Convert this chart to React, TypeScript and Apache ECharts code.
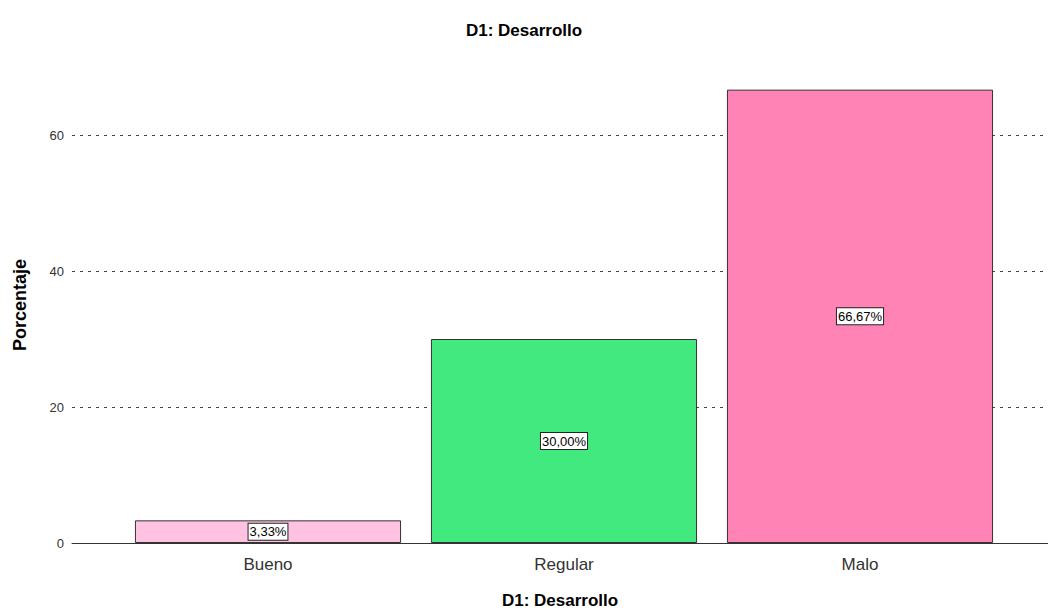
import React, { useEffect, useRef } from "react";
import * as echarts from "echarts";

const categories = ["Bueno", "Regular", "Malo"];
const percentages = [3.33, 30.0, 66.67];
const barColors = ["#FFC2E0", "#42E97E", "#FF83B4"];
const yTicks = { min: 0, max: 70, interval: 20 };
const chartTitle = "D1: Desarrollo";
const xName = "D1: Desarrollo";
const yName = "Porcentaje";

const FONT = "'Liberation Sans', Arial, sans-serif";

export default function App() {
  const ref = useRef<HTMLDivElement>(null);
  useEffect(() => {
    document.body.style.margin = "0";
    const chart = echarts.init(ref.current!, null, { renderer: "svg" });
    const top = 67;
    const bottom = 68;
    chart.setOption({
      animation: false,
      backgroundColor: "#ffffff",
      textStyle: { fontFamily: FONT },
      title: {
        text: chartTitle,
        left: "center",
        top: 17,
        textStyle: { fontFamily: FONT, fontSize: 17, fontWeight: "bold", color: "#000" },
      },
      grid: [
        { left: 72, right: 0, top, bottom, containLabel: false, outerBoundsMode: "none" },
        { left: 120, right: 40, top, bottom, containLabel: false, outerBoundsMode: "none" },
      ],
      xAxis: [
        {
          gridIndex: 0,
          type: "value",
          min: 0,
          max: 1,
          axisLine: { show: true, lineStyle: { color: "#333", width: 1 } },
          axisTick: { show: false },
          axisLabel: { show: false },
          splitLine: { show: false },
          name: xName,
          nameLocation: "middle",
          nameGap: 49,
          nameTextStyle: { fontFamily: FONT, fontSize: 17, fontWeight: "bold", color: "#000" },
        },
        {
          gridIndex: 1,
          type: "category",
          data: categories,
          axisLine: { show: false },
          axisTick: { show: false },
          axisLabel: { fontFamily: FONT, fontSize: 17, color: "#333", margin: 13 },
        },
      ],
      yAxis: [
        {
          gridIndex: 0,
          type: "value",
          min: yTicks.min,
          max: yTicks.max,
          interval: yTicks.interval,
          axisLine: { show: false },
          axisTick: { show: false },
          axisLabel: {
            fontFamily: FONT,
            fontSize: 13,
            color: "#333",
            margin: 8,
            showMaxLabel: false,
            formatter: (v: number) => (v % yTicks.interval === 0 ? String(v) : ""),
          },
          splitLine: {
            show: true,
            showMinLine: false,
            showMaxLine: false,
            lineStyle: { color: "#444", type: [3, 5], width: 1 },
          },
          name: yName,
          nameLocation: "middle",
          nameGap: 43,
          nameTextStyle: { fontFamily: FONT, fontSize: 18, fontWeight: "bold", color: "#000" },
        },
        {
          gridIndex: 1,
          type: "value",
          min: yTicks.min,
          max: yTicks.max,
          show: false,
          splitLine: { show: false },
        },
      ],
      series: [
        {
          type: "bar",
          xAxisIndex: 1,
          yAxisIndex: 1,
          barCategoryGap: "10.1%",
          data: percentages.map((v, i) => ({
            value: v,
            itemStyle: { color: barColors[i] },
          })),
          itemStyle: { borderColor: "#333", borderWidth: 1 },
          label: {
            show: true,
            position: "inside",
            formatter: (p: any) => p.value.toFixed(2).replace(".", ",") + "%",
            fontFamily: FONT,
            fontSize: 13,
            color: "#000",
            backgroundColor: "#fff",
            borderColor: "#222",
            borderWidth: 1,
            padding: [2, 1, 1, 1],
          },
        },
      ],
    });
    return () => chart.dispose();
  }, []);
  return <div ref={ref} style={{ width: 1048, height: 611 }} />;
}
